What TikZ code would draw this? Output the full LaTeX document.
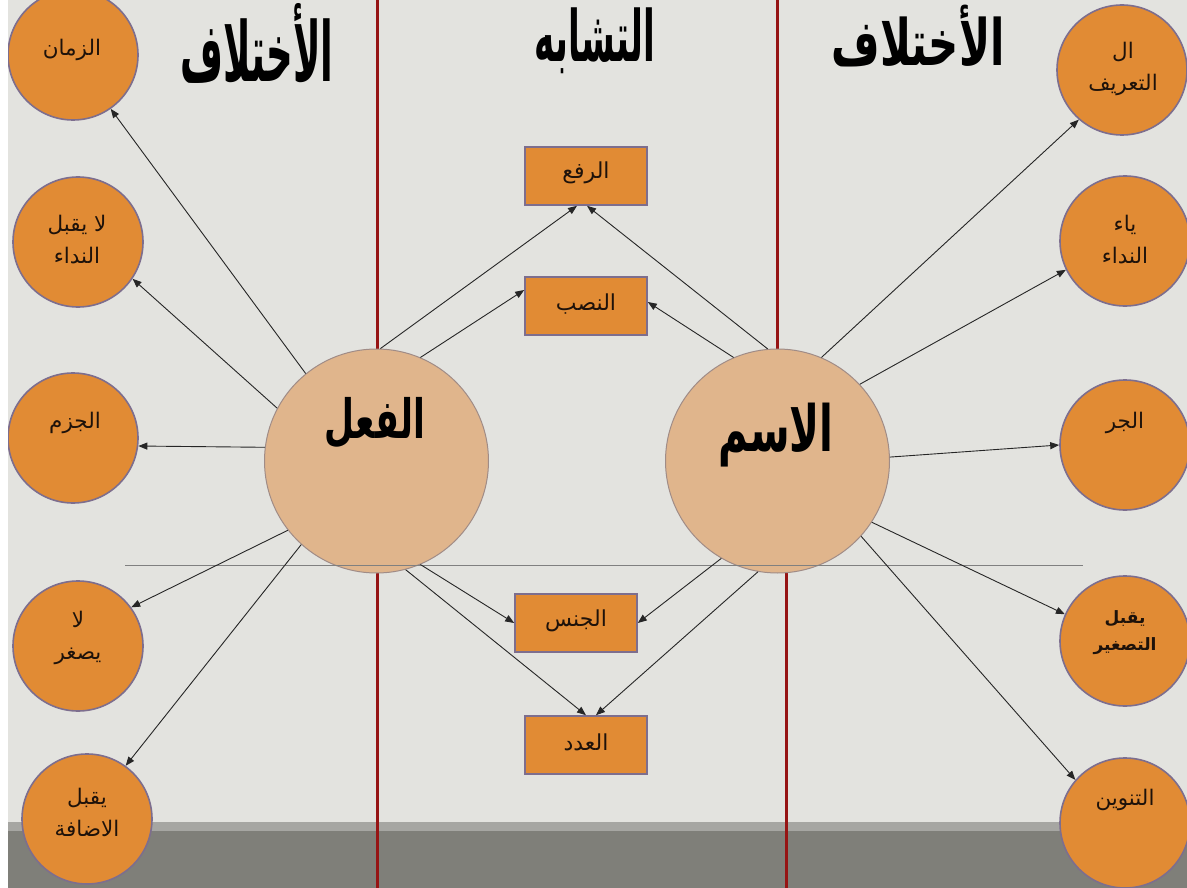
\documentclass[tikz,border=0pt]{standalone}
\usepackage{fontspec}
\usepackage{graphicx}
\usetikzlibrary{arrows.meta}
\newfontfamily\arabicfont[Script=Arabic]{DejaVu Sans}
\TeXXeTstate=1
\newcommand\AR[1]{\beginR #1\endR}

\definecolor{slidebg}{RGB}{227,227,223}
\definecolor{bandlight}{RGB}{166,166,162}
\definecolor{banddark}{RGB}{127,127,121}
\definecolor{orangefill}{RGB}{225,139,52}
\definecolor{rimpurple}{RGB}{125,110,142}
\definecolor{peach}{RGB}{224,181,140}
\definecolor{peachrim}{RGB}{160,140,135}
\definecolor{dividerred}{RGB}{150,20,20}
\definecolor{labeltext}{RGB}{30,18,10}

\tikzset{
  smallcirc/.style={circle, fill=orangefill, draw=rimpurple, line width=1.6pt,
    minimum size=130pt, inner sep=0pt},
  bigcirc/.style={circle, fill=peach, draw=peachrim, line width=1pt,
    minimum size=224pt, inner sep=0pt},
  rectbox/.style={rectangle, fill=orangefill, draw=rimpurple, line width=1.6pt,
    minimum width=122pt, minimum height=58pt, inner sep=0pt},
  lbl/.style={font=\arabicfont\fontsize{21.5}{32}\selectfont, text=labeltext,
    align=center, inner sep=0pt},
  boxlbl/.style={font=\arabicfont\fontsize{22}{26}\selectfont, text=labeltext, inner sep=0pt},
  heading/.style={inner sep=0pt, anchor=north, font=\arabicfont\bfseries},
  arr/.style={-{Triangle[length=9pt,width=7pt]}, line width=0.9pt, draw=black!85}
}

\begin{document}
\begin{tikzpicture}[x=1pt,y=-1pt]
  \useasboundingbox (0,0) rectangle (1187,888);
  \fill[white] (0,0) rectangle (1187,888);
  \clip (8,0) rectangle (1187,888);

  % slide background and footer band
  \fill[slidebg] (8,0) rectangle (1187,888);
  \fill[bandlight] (8,822) rectangle (1187,831);
  \fill[banddark] (8,831) rectangle (1187,888);

  % column dividers
  \draw[dividerred, line width=3pt] (377,0) -- (377,888);
  \draw[dividerred, line width=3pt] (777,0) -- (777,461);
  \draw[dividerred, line width=3pt] (786,461) -- (786,888);

  % column headings
  \node[heading] (hleft) at (257,3)
    {\resizebox*{153pt}{80pt}{\AR{الأختلاف}}};
  \node[heading] (hmid) at (595,8)
    {\resizebox*{120pt}{66pt}{\AR{التشابه}}};
  \node[heading] (hright) at (918,5)
    {\resizebox*{173pt}{62pt}{\AR{الأختلاف}}};

  % central circles
  \node[bigcirc] (fi) at (376.5,461) {};
  \node[bigcirc] (ism) at (777.5,461) {};
  \node[heading] (fitxt) at (375,397)
    {\resizebox*{100pt}{51pt}{\AR{الفعل}}};
  \node[heading] (ismtxt) at (776,403)
    {\resizebox*{115pt}{64pt}{\AR{الاسم}}};

  % left column: verb only
  \node[smallcirc] (zaman) at (73,55) {};
  \node[lbl] at (72,50) {\AR{الزمان}};
  \node[smallcirc] (nida1) at (78,242) {};
  \node[lbl] at (77,240) {\AR{لا يقبل}\\\AR{النداء}};
  \node[smallcirc] (jazm) at (73,438) {};
  \node[lbl] at (75,423) {\AR{الجزم}};
  \node[smallcirc] (saghar) at (78,646) {};
  \node[lbl] at (78,638) {\AR{لا}\\\AR{يصغر}};
  \node[smallcirc] (idafa) at (87,819) {};
  \node[lbl] at (87,812) {\AR{يقبل}\\\AR{الاضافة}};

  % right column: noun only
  \node[smallcirc] (tarif) at (1122,70) {};
  \node[lbl] at (1123,69) {\AR{ال}\\\AR{التعريف}};
  \node[smallcirc] (ya) at (1125,241) {};
  \node[lbl] at (1125,240) {\AR{ياء}\\\AR{النداء}};
  \node[smallcirc] (jarr) at (1125,445) {};
  \node[lbl] at (1125,423) {\AR{الجر}};
  \node[smallcirc] (tasgh) at (1125,641) {};
  \node[lbl, font=\arabicfont\bfseries\fontsize{17}{27}\selectfont] at (1125,633)
    {\AR{يقبل}\\\AR{التصغير}};
  \node[smallcirc] (tanwin) at (1125,823) {};
  \node[lbl] at (1125,800) {\AR{التنوين}};

  % middle column: shared features
  \node[rectbox] (rafa) at (586,176) {};
  \node[boxlbl] at (586,173) {\AR{الرفع}};
  \node[rectbox] (nasb) at (586,306) {};
  \node[boxlbl] at (586,304) {\AR{النصب}};
  \node[rectbox] (jins) at (576,623) {};
  \node[boxlbl] at (576,621) {\AR{الجنس}};
  \node[rectbox] (adad) at (586,745) {};
  \node[boxlbl] at (586,742) {\AR{العدد}};

  % guide line across the lower part
  \draw[gray, line width=0.9pt] (125,565) -- (1083,565);

  % verb connectors
  \draw[arr] (fi.129) -- (zaman.-55);
  \draw[arr] (fi.152) -- (nida1.-34);
  \draw[arr] (fi.173) -- (jazm.-7);
  \draw[arr] (fi.218) -- (saghar.36);
  \draw[arr] (fi.228) -- (idafa.54);
  \draw[arr] (fi.88) -- ([xshift=-9pt]rafa.south);
  \draw[arr] (fi.67) -- ([yshift=16pt]nasb.west);
  \draw[arr] (fi.293) -- (jins.west);
  \draw[arr] (fi.285) -- (adad.north);

  % noun connectors
  \draw[arr] (ism.95) -- ([xshift=1pt]rafa.south);
  \draw[arr] (ism.113) -- ([yshift=4pt]nasb.east);
  \draw[arr] (ism.240) -- (jins.east);
  \draw[arr] (ism.260) -- ([xshift=10pt]adad.north);
  \draw[arr] (ism.67) -- (tarif.229);
  \draw[arr] (ism.43) -- (ya.206);
  \draw[arr] (ism.2.5) -- (jarr.180);
  \draw[arr] (ism.327) -- (tasgh.156);
  \draw[arr] (ism.318) -- (tanwin.139);
\end{tikzpicture}
\end{document}
